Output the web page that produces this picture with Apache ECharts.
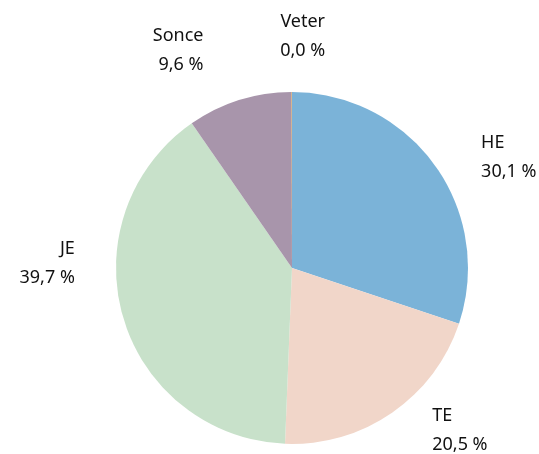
<!DOCTYPE html>
<html>
<head>
<meta charset="utf-8">
<script src="https://cdn.jsdelivr.net/npm/echarts@6/dist/echarts.min.js"></script>
<style>
	html, body { margin: 0; padding: 0; background: #fff; }
	#chart { width: 539px; height: 454px; }
</style>
</head>
<body>
<div id="chart"></div>
<script>
	const names = ['HE', 'TE', 'JE', 'Sonce', 'Veter']
	const values = [30.1, 20.5, 39.7, 9.6, 0.04]
	const colors = ['#7bb3d8', '#f1d6c9', '#c8e1ca', '#a895ab', '#e8a33d']
	// small nudges of the labels away from the plain radial spot
	const labelNudge = [[9, 19], [14, -20], [-4, -67], [-22, -6], [11, -10]]

	const cx = 292
	const cy = 268
	const r = 176
	const labelR = 222

	const total = values.reduce((a, b) => a + b, 0)
	let acc = 0
	const midAngles = values.map((v) => {
		const mid = (acc + v / 2) / total * Math.PI * 2
		acc += v
		return mid
	})

	const myChart = echarts.init(document.getElementById('chart'))
	const option = {
		animation: false,
		series: [
			{
				type: 'pie',
				center: [cx, cy],
				radius: [0, r],
				startAngle: 90,
				clockwise: true,
				avoidLabelOverlap: false,
				data: names.map((n, i) => ({
					name: n,
					value: values[i],
					itemStyle: { color: colors[i] }
				})),
				label: {
					show: true,
					position: 'outside',
					formatter: (p) => p.name + '\n' + p.value.toFixed(1).replace('.', ',') + ' %',
					fontFamily: 'Noto Sans',
					fontSize: 18,
					lineHeight: 29,
					color: '#111'
				},
				labelLine: { show: false },
				labelLayout: (params) => {
					const i = params.dataIndex
					const a = midAngles[i]
					const s = Math.sin(a)
					const x = cx + labelR * s + labelNudge[i][0]
					const y = cy - labelR * Math.cos(a) + labelNudge[i][1]
					let align = 'center'
					if (s > 0.02) align = 'left'
					else if (s < -0.02) align = 'right'
					return { x: x, y: y, align: align, verticalAlign: 'middle' }
				}
			}
		]
	}
	option && myChart.setOption(option)
</script>
</body>
</html>
